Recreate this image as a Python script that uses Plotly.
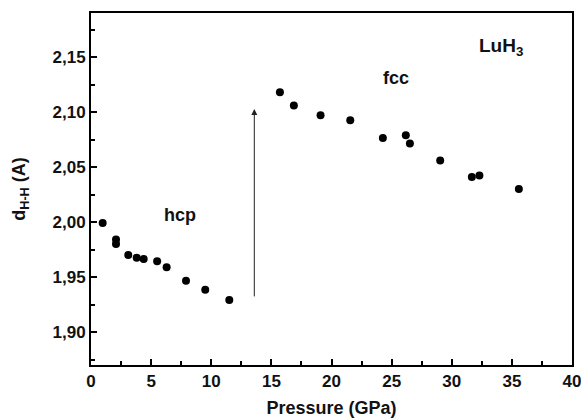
import plotly.graph_objects as go

hcp_pressure = [0.97, 2.08, 2.08, 3.1, 3.8, 4.38, 5.5, 6.29, 7.9, 9.5, 11.5]
hcp_dhh = [1.999, 1.984, 1.980, 1.970, 1.9676, 1.9664, 1.9643, 1.9588, 1.9467, 1.9385, 1.929]

fcc_pressure = [15.71, 16.87, 19.09, 21.56, 24.27, 26.18, 26.52, 29.04, 31.67, 32.3, 35.58]
fcc_dhh = [2.118, 2.1058, 2.097, 2.0925, 2.0764, 2.0788, 2.0713, 2.056, 2.041, 2.0422, 2.030]

arrow_x = [13.58, 13.58]
arrow_y = [1.931, 2.1027]

labels = ["hcp", "fcc", "LuH<sub>3</sub>"]
label_x = [7.4, 25.4, 34.1]
label_y = [2.006, 2.131, 2.159]
label_size = [18, 18, 19]

x_ticks = [0, 5, 10, 15, 20, 25, 30, 35, 40]
y_ticks = [1.90, 1.95, 2.00, 2.05, 2.10, 2.15]

FONT = "Liberation Sans, Arial, sans-serif"

fig = go.Figure()
fig.add_trace(go.Scatter(x=hcp_pressure + fcc_pressure, y=hcp_dhh + fcc_dhh,
                         mode="markers", marker=dict(color="black", size=8),
                         showlegend=False, hoverinfo="x+y"))

fig.add_annotation(x=arrow_x[1], y=arrow_y[1], ax=arrow_x[0], ay=arrow_y[0],
                   xref="x", yref="y", axref="x", ayref="y", showarrow=True,
                   arrowhead=2, arrowsize=1.2, arrowwidth=1, arrowcolor="#222",
                   text="")

for t, lx, ly, ls in zip(labels, label_x, label_y, label_size):
    fig.add_annotation(x=lx, y=ly, xref="x", yref="y", text=f"<b>{t}</b>",
                       showarrow=False, font=dict(family=FONT, size=ls, color="#111"))

axis_common = dict(showline=True, linecolor="black", linewidth=2, mirror=True,
                   ticks="inside", ticklen=6, tickwidth=1.5, tickcolor="black",
                   showgrid=False, zeroline=False, automargin=False,
                   ticklabeloverflow="allow",
                   tickfont=dict(family=FONT, size=17, color="#111", weight="bold"))

fig.update_xaxes(range=[0, 40], tickvals=x_ticks,
                 minor=dict(ticks="inside", ticklen=4, tickwidth=1.5, tickcolor="black", dtick=2.5, tick0=0),
                 title=dict(text="<b>Pressure (GPa)</b>", font=dict(family=FONT, size=18, color="#111"), standoff=12),
                 **axis_common)
fig.update_yaxes(range=[1.87, 2.19], tickvals=y_ticks, tickformat=".2f",
                 minor=dict(ticks="inside", ticklen=4, tickwidth=1.5, tickcolor="black", dtick=0.025, tick0=1.9),
                 title=dict(text="<b>d<sub>H-H</sub> (A)</b>", font=dict(family=FONT, size=18, color="#111"), standoff=22),
                 **axis_common)

fig.update_layout(width=581, height=418, separators=", ",
                  margin=dict(l=91, r=9, t=13, b=53),
                  plot_bgcolor="white", paper_bgcolor="white")

fig.write_html("out.html", config={"displayModeBar": False},
               post_script="document.body.style.margin='0';")
